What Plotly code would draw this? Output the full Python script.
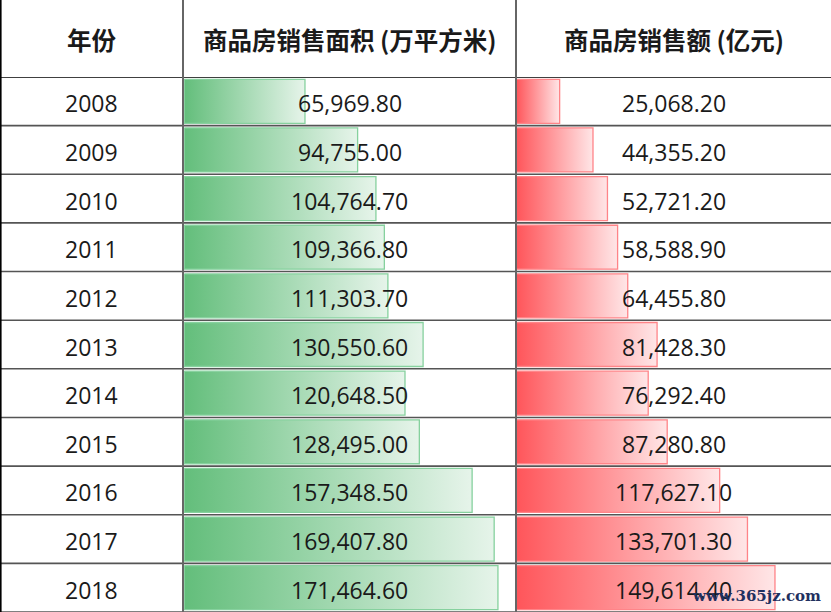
import plotly.graph_objects as go

years = ["2008", "2009", "2010", "2011", "2012", "2013", "2014", "2015", "2016", "2017", "2018"]
area = [65969.80, 94755.00, 104764.70, 109366.80, 111303.70, 130550.60,
        120648.50, 128495.00, 157348.50, 169407.80, 171464.60]
sales = [25068.20, 44355.20, 52721.20, 58588.90, 64455.80, 81428.30,
         76292.40, 87280.80, 117627.10, 133701.30, 149614.40]
headers = ["年份", "商品房销售面积 (万平方米)", "商品房销售额 (亿元)"]

W, H = 831, 612
head_h = 77
col_edges = [0, 183, 516, 831]
half = 0.452  # half bar height in row units

num_font = dict(family="Open Sans, Noto Sans, sans-serif", size=23, color="#1a1a1a")
head_font = dict(family="Noto Sans CJK SC, sans-serif", size=24.5, color="#1a1a1a")

fig = go.Figure()

idx = list(range(len(years)))


def add_bars(values, axis, c0, c1, edge):
    for i, v in enumerate(values):
        fig.add_trace(go.Scatter(
            x=[0, v, v, 0, 0],
            y=[i - half, i - half, i + half, i + half, i - half],
            mode="lines", fill="toself",
            fillgradient=dict(type="horizontal", colorscale=[[0, c0], [1, c1]]),
            line=dict(color=edge, width=1.3),
            xaxis=axis, yaxis="y", hoverinfo="skip", showlegend=False,
        ))


add_bars(area, "x2", "#63BE7B", "#E6F4EA", "#86D19E")
add_bars(sales, "x3", "#FF555A", "#FFE6E7", "#FF8488")

x2_range = [-711, 181340]
x3_range = [-174, 182020]


def add_labels(labels, axis, xmid):
    for i, t in enumerate(labels):
        fig.add_annotation(
            x=xmid, y=i, xref=axis, yref="y", text=t, showarrow=False,
            font=num_font, xanchor="center", yanchor="middle", yshift=-2,
        )


add_labels(years, "x", 0.5)
add_labels([f"{v:,.2f}" for v in area], "x2", sum(x2_range) / 2)
add_labels([f"{v:,.2f}" for v in sales], "x3", sum(x3_range) / 2)

# header texts
for j, h in enumerate(headers):
    fig.add_annotation(
        x=(col_edges[j] + col_edges[j + 1]) / 2 / W, y=1 - head_h / 2 / H,
        xref="paper", yref="paper", text=f"<b>{h}</b>", showarrow=False,
        font=head_font, xanchor="center", yanchor="middle", yshift=-1,
    )

# grid lines
shapes = []
for k in range(1, len(years) + 1):
    shapes.append(dict(type="line", xref="paper", yref="y", x0=0, x1=1,
                       y0=k - 0.5, y1=k - 0.5, line=dict(color="#555555", width=1.6)))
shapes.append(dict(type="line", xref="paper", yref="y", x0=0, x1=1,
                   y0=-0.5, y1=-0.5, line=dict(color="#000000", width=1.6)))
for xe in col_edges[1:3]:
    shapes.append(dict(type="line", xref="paper", yref="paper", x0=xe / W, x1=xe / W,
                       y0=0, y1=1, line=dict(color="#666666", width=2)))
shapes.append(dict(type="line", xref="paper", yref="paper", x0=0.8 / W, x1=0.8 / W,
                   y0=0, y1=1, line=dict(color="#000000", width=1.6)))

fig.add_annotation(
    x=823 / W, y=5 / H, xref="paper", yref="paper", text="<b>www.365jz.com</b>",
    showarrow=False, xanchor="right", yanchor="bottom",
    font=dict(family="DejaVu Serif, serif", size=15, color="#1f3060"),
)

ax_off = dict(showgrid=False, zeroline=False, showticklabels=False, ticks="", fixedrange=True)
fig.update_layout(
    width=W, height=H,
    margin=dict(l=0, r=0, t=0, b=0),
    paper_bgcolor="white", plot_bgcolor="white",
    xaxis=dict(domain=[0, col_edges[1] / W], range=[0, 1], **ax_off),
    xaxis2=dict(domain=[col_edges[1] / W, col_edges[2] / W], range=x2_range, anchor="y", **ax_off),
    xaxis3=dict(domain=[col_edges[2] / W, 1], range=x3_range, anchor="y", **ax_off),
    yaxis=dict(domain=[0, 1 - head_h / H], range=[len(years) - 0.5, -0.5], **ax_off),
    shapes=shapes,
    showlegend=False,
)

# drop the browser's default page margin so the figure fills the window
fig.write_html("out.html", config={"displayModeBar": False},
               post_script="document.body.style.margin='0';")
